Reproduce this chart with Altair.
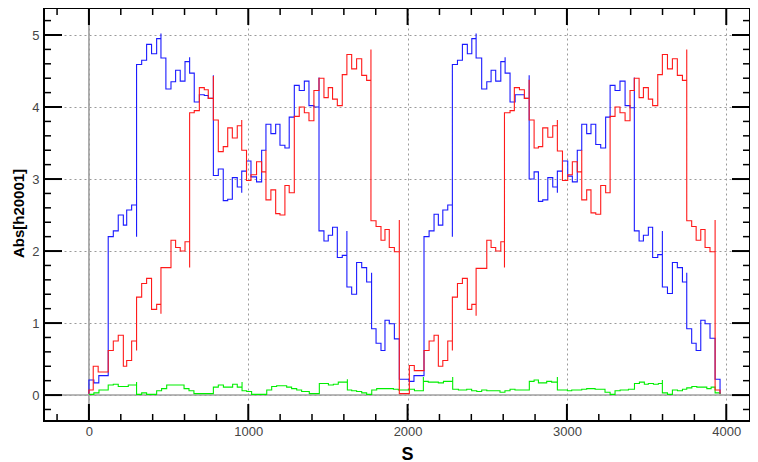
import altair as alt
import pandas as pd

# ---------------- data ----------------
BLUE_X = [0, 0, 31, 62, 121, 153, 184, 216, 237, 268, 299, 299, 331, 362, 393, 425, 452, 452, 483, 515,
          544, 573, 603, 632, 632, 661, 693, 724, 749, 781, 781, 812, 843, 871, 900, 931, 959, 959, 989,
          1017, 1052, 1084, 1111, 1142, 1172, 1199, 1230, 1257, 1289, 1320, 1352, 1381, 1412, 1444, 1444,
          1475, 1502, 1529, 1559, 1590, 1619, 1619, 1649, 1680, 1712, 1743, 1774, 1774, 1802, 1833, 1858,
          1885, 1917, 1948, 2009, 2040, 2103, 2135, 2166, 2193, 2221, 2252, 2281, 2281, 2313, 2344, 2375,
          2403, 2430, 2430, 2465, 2497, 2524, 2553, 2585, 2612, 2612, 2643, 2675, 2702, 2733, 2763, 2763,
          2794, 2821, 2848, 2880, 2911, 2940, 2940, 2972, 3005, 3034, 3065, 3093, 3124, 3151, 3181, 3212,
          3243, 3271, 3302, 3333, 3365, 3396, 3423, 3423, 3453, 3480, 3511, 3538, 3570, 3599, 3599, 3631,
          3662, 3693, 3725, 3752, 3752, 3783, 3811, 3840, 3867, 3898, 3930, 3961]
BLUE_Y = [0.02, 0.21, 0.17, 0.27, 2.20, 2.28, 2.50, 2.36, 2.57, 2.64, 2.20, 4.59, 4.65, 4.87, 4.74, 4.95, 5.02, 4.68, 4.25, 4.35,
          4.51, 4.36, 4.63, 4.69, 4.47, 4.07, 4.17, 4.16, 4.12, 4.44, 3.05, 3.14, 2.70, 2.72, 3.02, 2.89, 2.81, 3.11, 3.25,
          3.03, 2.96, 3.40, 3.76, 3.63, 3.76, 3.47, 3.43, 3.86, 4.30, 4.23, 4.36, 4.02, 4.00, 4.41, 2.28,
          2.14, 2.22, 2.33, 1.91, 1.94, 2.28, 1.50, 1.40, 1.84, 1.77, 1.57, 1.70, 0.92, 0.72, 0.62, 1.04,
          0.99, 0.78, 0.22, 0.19, 0.27, 2.20, 2.28, 2.51, 2.36, 2.57, 2.64, 2.20, 4.59, 4.65, 4.87, 4.74,
          4.95, 5.02, 4.68, 4.25, 4.35, 4.51, 4.36, 4.63, 4.69, 4.47, 4.07, 4.17, 4.17, 4.12, 4.44, 3.00,
          3.10, 2.69, 2.71, 3.02, 2.89, 2.81, 3.11, 3.25, 3.04, 2.96, 3.40, 3.76, 3.63, 3.76, 3.48, 3.43,
          3.86, 4.30, 4.23, 4.36, 4.02, 3.99, 4.41, 2.28, 2.14, 2.22, 2.33, 1.91, 1.95, 2.28, 1.50, 1.41,
          1.84, 1.77, 1.57, 1.70, 0.92, 0.72, 0.62, 1.04, 0.99, 0.79, 0.22, 0.02]

RED_X = [0, 0, 27, 58, 121, 153, 184, 216, 237, 268, 299, 299, 331, 362, 393, 425, 452, 452, 515, 544,
         573, 603, 632, 632, 661, 693, 724, 749, 781, 781, 812, 843, 871, 900, 931, 959, 959, 989, 1017,
         1052, 1084, 1111, 1111, 1142, 1172, 1199, 1230, 1257, 1289, 1320, 1352, 1381, 1412, 1444, 1475,
         1502, 1529, 1559, 1590, 1619, 1649, 1680, 1712, 1743, 1770, 1770, 1802, 1833, 1858, 1885, 1917,
         1948, 1948, 2011, 2042, 2103, 2135, 2166, 2193, 2221, 2252, 2281, 2281, 2313, 2344, 2375, 2403,
         2430, 2430, 2497, 2524, 2553, 2585, 2608, 2608, 2643, 2670, 2702, 2733, 2763, 2763, 2794, 2821,
         2848, 2880, 2911, 2940, 2940, 2972, 3005, 3034, 3065, 3093, 3093, 3124, 3151, 3181, 3212, 3243,
         3271, 3302, 3333, 3365, 3396, 3423, 3453, 3480, 3511, 3538, 3570, 3599, 3631, 3662, 3693, 3725,
         3752, 3752, 3783, 3811, 3840, 3867, 3898, 3930, 3930, 3961]
RED_Y = [0.02, 0.07, 0.40, 0.32, 0.62, 0.75, 0.83, 0.40, 0.48, 0.75, 0.62, 1.36, 1.55, 1.62, 1.19, 1.26, 1.13, 1.77, 2.15, 2.05,
         2.00, 2.13, 1.77, 3.92, 3.95, 4.27, 4.24, 4.12, 4.43, 3.82, 3.38, 3.45, 3.71, 3.57, 3.74, 3.82, 3.40, 2.98, 3.06,
         3.24, 3.10, 3.40, 2.71, 2.85, 2.52, 2.50, 2.91, 2.81, 3.87, 4.00, 3.92, 3.81, 4.23, 4.40, 4.13,
         4.27, 4.11, 4.02, 4.45, 4.73, 4.53, 4.67, 4.44, 4.37, 4.80, 2.42, 2.34, 2.15, 2.30, 2.05, 1.99,
         2.43, 0.02, 0.41, 0.34, 0.62, 0.75, 0.83, 0.40, 0.48, 0.75, 0.62, 1.36, 1.55, 1.62, 1.19, 1.26,
         1.10, 1.76, 2.15, 2.05, 2.00, 2.13, 1.77, 3.92, 3.95, 4.27, 4.24, 4.12, 4.38, 3.82, 3.43, 3.45,
         3.71, 3.58, 3.74, 3.82, 3.39, 2.98, 3.06, 3.24, 3.10, 3.40, 2.71, 2.85, 2.53, 2.51, 2.91, 2.81,
         3.87, 4.00, 3.92, 3.81, 4.23, 4.40, 4.13, 4.27, 4.11, 4.02, 4.45, 4.73, 4.53, 4.67, 4.44, 4.37,
         4.80, 2.42, 2.34, 2.15, 2.30, 2.05, 1.99, 2.43, 0.07, 0.02]

GREEN_X = [0, 31, 63, 121, 153, 184, 216, 247, 299, 299, 331, 362, 425, 456, 488, 597, 628, 659, 781, 812,
           844, 902, 931, 961, 961, 990, 1021, 1116, 1147, 1178, 1241, 1272, 1304, 1335, 1383, 1446, 1503,
           1534, 1565, 1622, 1622, 1649, 1680, 1712, 1743, 1775, 1806, 1837, 1911, 1942, 2005, 2043, 2099,
           2099, 2130, 2193, 2225, 2283, 2283, 2319, 2371, 2402, 2434, 2465, 2497, 2580, 2611, 2643, 2674,
           2764, 2794, 2821, 2873, 2904, 2940, 2940, 3003, 3030, 3093, 3124, 3177, 3239, 3271, 3302, 3334,
           3386, 3424, 3455, 3486, 3511, 3543, 3574, 3599, 3599, 3631, 3662, 3694, 3725, 3752, 3784, 3815,
           3878, 3905, 3930, 3961]
GREEN_Y = [0.01, 0.03, 0.07, 0.14, 0.15, 0.12, 0.12, 0.14, 0.18, 0.01, 0.03, 0.01, 0.06, 0.09, 0.14, 0.09, 0.06, 0.02, 0.11, 0.14,
           0.11, 0.15, 0.11, 0.18, 0.06, 0.05, 0.01, 0.07, 0.12, 0.13, 0.11, 0.09, 0.07, 0.05, 0.02, 0.16, 0.14,
           0.15, 0.18, 0.22, 0.07, 0.06, 0.05, 0.03, 0.01, 0.07, 0.09, 0.09, 0.08, 0.07, 0.08, 0.06, 0.25,
           0.19, 0.18, 0.17, 0.19, 0.25, 0.08, 0.07, 0.08, 0.06, 0.05, 0.07, 0.06, 0.04, 0.06, 0.08, 0.07,
           0.19, 0.21, 0.17, 0.19, 0.18, 0.25, 0.07, 0.06, 0.07, 0.08, 0.09, 0.08, 0.04, 0.01, 0.06, 0.07,
           0.08, 0.16, 0.18, 0.15, 0.16, 0.15, 0.16, 0.21, 0.03, 0.01, 0.07, 0.06, 0.08, 0.10, 0.12, 0.11,
           0.09, 0.11, 0.03, 0.01]

X_MAJOR = [0, 1000, 2000, 3000, 4000]
X_MINOR = [-200, 200, 400, 600, 800, 1200, 1400, 1600, 1800, 2200, 2400, 2600, 2800,
           3200, 3400, 3600, 3800]
Y_MAJOR = [0, 1, 2, 3, 4, 5]
Y_MINOR = [-0.2, 0.2, 0.4, 0.6, 0.8, 1.2, 1.4, 1.6, 1.8, 2.2, 2.4, 2.6, 2.8,
           3.2, 3.4, 3.6, 3.8, 4.2, 4.4, 4.6, 4.8, 5.2]

X_DOMAIN = [-282, 4149]
Y_DOMAIN = [-0.36, 5.375]

# ---------------- chart ----------------
W, H = 706, 413
FONT = "Liberation Sans"

xscale = alt.Scale(domain=X_DOMAIN, nice=False, zero=False)
yscale = alt.Scale(domain=Y_DOMAIN, nice=False, zero=False)

xaxis = alt.Axis(values=X_MAJOR, format="d", title="S", ticks=False, domain=False, grid=True,
                 gridDash=[2, 3], gridColor="#9a9a9a", gridWidth=1, labelPadding=4,
                 labelFont=FONT, labelFontSize=13, labelColor="#444444", labelFlush=False,
                 titleFont=FONT, titleFontSize=18, titleFontWeight="bold", titleColor="black",
                 titleX=363, titleY=33, titleBaseline="middle", titleAlign="center")
yaxis = alt.Axis(values=Y_MAJOR, format="d", title="Abs[h20001]", ticks=False, domain=False, grid=True,
                 gridDash=[2, 3], gridColor="#9a9a9a", gridWidth=1, labelPadding=5,
                 labelFont=FONT, labelFontSize=13, labelColor="#444444", labelFlush=False,
                 titleFont=FONT, titleFontSize=15, titleFontWeight="bold", titleColor="black",
                 titleX=-26, titleY=205, titleAngle=270, titleBaseline="middle", titleAlign="center")


def frame(xs, ys):
    return pd.DataFrame({"s": xs, "v": ys, "i": list(range(len(xs)))})


def step_line(xs, ys, color):
    return alt.Chart(frame(xs, ys)).mark_line(
        interpolate="step-after", color=color, strokeWidth=1.1, clip=True
    ).encode(
        x=alt.X("s:Q", scale=xscale, axis=xaxis),
        y=alt.Y("v:Q", scale=yscale, axis=yaxis),
        order=alt.Order("i:Q"),
    )


zero_x = alt.Chart(pd.DataFrame({"s": [0]})).mark_rule(color="#a0a0a0", strokeWidth=1.6).encode(
    x=alt.X("s:Q", scale=xscale, axis=xaxis))
zero_y = alt.Chart(pd.DataFrame({"v": [0]})).mark_rule(color="#a0a0a0", strokeWidth=1.6).encode(
    y=alt.Y("v:Q", scale=yscale, axis=yaxis))


def xticks(vals, length, width):
    d = pd.DataFrame({"s": vals})
    bottom = alt.Chart(d).mark_rule(color="black", strokeWidth=width).encode(
        x=alt.X("s:Q", scale=xscale, axis=xaxis), y=alt.value(H), y2=alt.value(H - length))
    top = alt.Chart(d).mark_rule(color="black", strokeWidth=width).encode(
        x=alt.X("s:Q", scale=xscale, axis=xaxis), y=alt.value(0), y2=alt.value(length))
    return [bottom, top]


def yticks(vals, length, width):
    d = pd.DataFrame({"v": vals})
    left = alt.Chart(d).mark_rule(color="black", strokeWidth=width).encode(
        y=alt.Y("v:Q", scale=yscale, axis=yaxis), x=alt.value(0), x2=alt.value(length))
    right = alt.Chart(d).mark_rule(color="black", strokeWidth=width).encode(
        y=alt.Y("v:Q", scale=yscale, axis=yaxis), x=alt.value(W), x2=alt.value(W - length))
    return [left, right]


layers = [zero_x, zero_y,
          step_line(GREEN_X, GREEN_Y, "#00ee00"),
          step_line(BLUE_X, BLUE_Y, "#1a1aff"),
          step_line(RED_X, RED_Y, "#ff1a1a")]
layers += xticks(X_MAJOR, 17, 2) + xticks(X_MINOR, 7, 1.5)
layers += yticks(Y_MAJOR, 18, 2) + yticks(Y_MINOR, 7, 1.5)

chart = alt.layer(*layers).properties(
    width=W, height=H,
    padding={"left": 36, "top": 0, "right": 0, "bottom": 41},
    autosize=alt.AutoSizeParams(type="none"),
    background="white",
).configure_view(stroke="black", strokeWidth=2)

chart.save("out.html", embed_options={"renderer": "svg", "actions": False})
